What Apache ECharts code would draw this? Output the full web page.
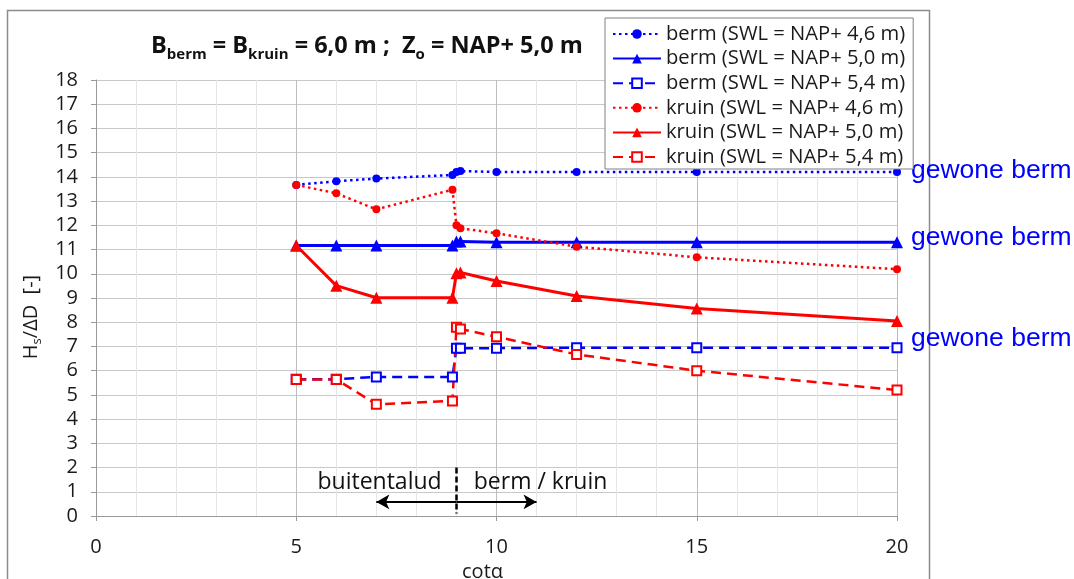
<!DOCTYPE html>
<html>
<head>
<meta charset="utf-8">
<script src="https://cdn.jsdelivr.net/npm/echarts@6/dist/echarts.min.js"></script>
<style>
  html, body { margin: 0; padding: 0; background: #fff; }
  #chart { width: 1074px; height: 579px; }
</style>
</head>
<body>
<div id="chart"></div>
<script>
// cot(alpha) values shared by all series
const cotA = [5, 6, 7, 8.9, 9.0, 9.1, 10, 12, 15, 20];

const berm46 = [13.67, 13.82, 13.93, 14.08, 14.2, 14.24, 14.2, 14.2, 14.2, 14.2];
const berm50 = [11.17, 11.17, 11.17, 11.17, 11.33, 11.33, 11.3, 11.3, 11.3, 11.3];
const berm54 = [5.65, 5.65, 5.74, 5.74, 6.93, 6.93, 6.93, 6.95, 6.95, 6.95];
const kruin46 = [13.67, 13.32, 12.66, 13.47, 12.0, 11.88, 11.67, 11.12, 10.68, 10.19];
const kruin50 = [11.17, 9.51, 9.01, 9.01, 10.02, 10.05, 9.7, 9.08, 8.57, 8.05];
const kruin54 = [5.64, 5.64, 4.61, 4.75, 7.79, 7.72, 7.4, 6.67, 6.0, 5.2];

const seriesNames = [
  "berm (SWL = NAP+ 4,6 m)",
  "berm (SWL = NAP+ 5,0 m)",
  "berm (SWL = NAP+ 5,4 m)",
  "kruin (SWL = NAP+ 4,6 m)",
  "kruin (SWL = NAP+ 5,0 m)",
  "kruin (SWL = NAP+ 5,4 m)",
];

// annotation positions (data units)
const splitX = 9;
const arrowY = 0.58;
const arrowLeft = 7;
const arrowRight = 11;

const BLUE = "#0000ff";
const RED = "#ff0000";
const FONT = "Open Sans";

const pts = (ys) => cotA.map((x, i) => [x, ys[i]]);
const last = cotA.length - 1;

const dotted = [2.5, 3.5];
const dashed = [10, 6];

// "gewone berm" label next to the last point of a berm series
const gewone = (ys, dy) => ({
  symbol: "circle",
  symbolSize: 0,
  silent: true,
  label: {
    show: true,
    position: "right",
    distance: 14,
    offset: [0, dy],
    formatter: "gewone berm",
    color: BLUE,
    fontSize: 26.5,
    fontFamily: "Liberation Sans",
  },
  data: [{ coord: [cotA[last], ys[last]] }],
});

const makeSeries = (name, ys, color, type, symbol, size, width, extra) =>
  Object.assign(
    {
      name: name,
      type: "line",
      data: pts(ys),
      symbol: symbol,
      symbolSize: size,
      color: color,
      lineStyle: { color: color, width: width, type: type },
      itemStyle: { color: color, borderWidth: 1.5 },
      z: 3,
    },
    extra || {}
  );

const chart = echarts.init(document.getElementById("chart"));

chart.setOption({
  animation: false,
  backgroundColor: "#fff",
  title: {
    left: 146,
    top: 25,
    text: "{b|B}{s|berm}{b| = B}{s|kruin}{b| = 6,0 m ;  Z}{s|o}{b| = NAP+ 5,0 m}",
    textStyle: {
      rich: {
        b: { fontFamily: FONT, fontWeight: "bold", fontSize: 23.5, lineHeight: 32, color: "#111" },
        s: { fontFamily: FONT, fontWeight: "bold", fontSize: 15, lineHeight: 15, color: "#111", verticalAlign: "bottom" },
      },
    },
  },
  graphic: [
    {
      type: "rect",
      shape: { x: 7.5, y: 10.5, width: 922, height: 620 },
      style: { fill: "none", stroke: "#8c8c8c", lineWidth: 1.5 },
      silent: true,
      z: -1,
    },
  ],
  legend: {
    data: seriesNames,
    orient: "vertical",
    left: 605,
    top: 18,
    padding: [6, 8, 2, 7],
    itemGap: 4.6,
    itemWidth: 48,
    itemHeight: 12,
    backgroundColor: "#fff",
    borderColor: "#808080",
    borderWidth: 1,
    borderRadius: 0,
    textStyle: { fontFamily: FONT, fontSize: 20.2, color: "#1a1a1a", lineHeight: 20 },
    z: 10,
  },
  grid: { left: 96, right: 177, top: 80, bottom: 63, outerBoundsMode: "none", containLabel: false },
  xAxis: {
    type: "value",
    min: 0,
    max: 20,
    interval: 5,
    name: "cotα",
    nameLocation: "middle",
    nameGap: 41,
    nameTextStyle: { fontFamily: FONT, fontSize: 20, color: "#1a1a1a", padding: [0, 28, 0, 0] },
    axisLine: { show: true, lineStyle: { color: "#9a9a9a", width: 1 } },
    axisTick: { show: true, length: 5, lineStyle: { color: "#9a9a9a" } },
    axisLabel: { fontFamily: FONT, fontSize: 20, color: "#1a1a1a", margin: 21 },
    splitLine: { show: true, lineStyle: { color: "#bdbdbd", width: 1 } },
    minorTick: { show: false, splitNumber: 5 },
    minorSplitLine: { show: true, lineStyle: { color: "#e6e6e6", width: 1 } },
  },
  yAxis: {
    type: "value",
    min: 0,
    max: 18,
    interval: 1,
    name: "{n|H}{s|s}{n|/ΔD  [-]}",
    nameLocation: "middle",
    nameGap: 44,
    nameTextStyle: {
      padding: [0, 38, 0, 0],
      rich: {
        n: { fontFamily: FONT, fontSize: 20, lineHeight: 26, color: "#1a1a1a" },
        s: { fontFamily: FONT, fontSize: 13, lineHeight: 14, color: "#1a1a1a", verticalAlign: "bottom" },
      },
    },
    axisLine: { show: true, lineStyle: { color: "#9a9a9a", width: 1 } },
    axisTick: { show: true, length: 5, lineStyle: { color: "#9a9a9a" } },
    axisLabel: { fontFamily: FONT, fontSize: 20, color: "#1a1a1a", margin: 18 },
    splitLine: { show: true, lineStyle: { color: "#c8c8c8", width: 1 } },
  },
  series: [
    makeSeries(seriesNames[0], berm46, BLUE, dotted, "circle", 8, 2.5, { markPoint: gewone(berm46, -1.5) }),
    makeSeries(seriesNames[1], berm50, BLUE, "solid", "triangle", 12, 3, { markPoint: gewone(berm50, -5) }),
    makeSeries(seriesNames[2], berm54, BLUE, dashed, "emptyRect", 9, 2.5, { markPoint: gewone(berm54, -8.5) }),
    makeSeries(seriesNames[3], kruin46, RED, dotted, "circle", 8, 2.5),
    makeSeries(seriesNames[4], kruin50, RED, "solid", "triangle", 12, 3),
    makeSeries(seriesNames[5], kruin54, RED, dashed, "emptyRect", 9, 2.5),
    {
      name: "annot",
      type: "line",
      data: [],
      silent: true,
      markLine: {
        silent: true,
        symbol: ["none", "arrow"],
        symbolSize: [11, 13],
        label: { show: false },
        lineStyle: { color: "#000", width: 2, type: "solid" },
        data: [
          [{ coord: [splitX, arrowY] }, { coord: [arrowLeft, arrowY] }],
          [{ coord: [splitX, arrowY] }, { coord: [arrowRight, arrowY] }],
          [
            { coord: [splitX, 2.0], symbol: "none", lineStyle: { type: [6, 3], width: 2.5 } },
            { coord: [splitX, 0.1], symbol: "none" },
          ],
        ],
      },
      markPoint: {
        symbol: "circle",
        symbolSize: 0,
        silent: true,
        label: { show: true, position: "inside", fontFamily: FONT, fontSize: 23, color: "#111" },
        data: [
          { coord: [7.08, 1.4], label: { formatter: "buitentalud" } },
          { coord: [11.1, 1.4], label: { formatter: "berm / kruin" } },
        ],
      },
    },
  ],
});
</script>
</body>
</html>
